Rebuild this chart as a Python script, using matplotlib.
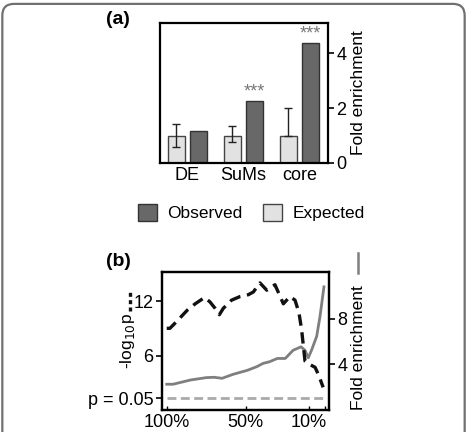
import matplotlib
matplotlib.use("Agg")
import matplotlib.pyplot as plt
from matplotlib.patches import FancyBboxPatch, Patch
from matplotlib.lines import Line2D

plt.rcParams['font.family'] = ['Liberation Sans', 'DejaVu Sans']

# ---- panel (a) data ----
categories = ["DE", "SuMs", "core"]
observed = [1.15, 2.26, 4.36]
expected = [1.0, 1.0, 1.0]
err_low = [0.4, 0.25, 0.0]
err_high = [0.42, 0.35, 1.02]
stars = ["", "***", "***"]

# ---- panel (b) data ----
pct_p = [100, 98, 94, 87, 82, 76, 72.6, 69.4, 66.7, 64.2, 59, 53.6, 48.4, 45.2,
         41, 36.7, 31.5, 26.2, 22, 18.8, 16.3, 14.6, 12.5, 9.3, 6.1, 4, 1]
logp = [9.0, 9.0, 9.7, 11.0, 11.7, 12.4, 11.9, 11.2, 10.5, 11.2, 12.1, 12.5, 12.7, 13.0,
        14.0, 13.2, 13.8, 11.7, 12.5, 12.1, 10.7, 8.8, 5.4, 5.0, 4.7, 3.9, 2.5]
pct_fe = [100, 96, 85, 75, 70, 65, 58, 49, 43, 39, 35, 30, 25, 20, 15, 12.5,
          10.4, 8.2, 5.1, 3, 0.5]
fold_enr = [2.26, 2.26, 2.63, 2.84, 2.87, 2.78, 3.13, 3.48, 3.8, 4.09, 4.23, 4.52,
            4.52, 5.24, 5.54, 5.24, 4.58, 5.3, 6.46, 8.2, 10.8]
p_thresh = 1.3  # -log10(0.05)
x_ticks = [100, 50, 10, 0]
x_ticklabels = ["100%", "50%", "10%", ""]

FS = 12.5
FT = 13
obs_color = "#686868"
exp_color = "#e2e2e2"

fig = plt.figure(figsize=(4.67, 4.32), dpi=100)

# ---------------- panel (a) ----------------
axa = fig.add_axes([0.3426, 0.6227, 0.3597, 0.324])
xs = list(range(len(categories)))
w = 0.31
off = 0.2
axa.bar([x - off for x in xs], expected, width=w, color=exp_color, edgecolor="#444444",
        linewidth=1.0, zorder=2)
axa.bar([x + off for x in xs], observed, width=w, color=obs_color, edgecolor="#333333",
        linewidth=1.0, zorder=2)
axa.errorbar([x - off for x in xs], expected, yerr=[err_low, err_high], fmt="none",
             ecolor="#222222", elinewidth=1.0, capsize=3, capthick=1.0, zorder=3)
for x, o, s in zip(xs, observed, stars):
    if s:
        axa.text(x + off, o + 0.02, s, ha="center", va="bottom", fontsize=13,
                 color="#777777")
axa.set_xlim(-0.49, 2.51)
axa.set_ylim(0, 5.1)
axa.set_xticks(xs)
axa.set_xticklabels(categories, fontsize=FT)
axa.tick_params(axis="x", length=0, pad=3)
axa.yaxis.tick_right()
axa.set_yticks([0, 2, 4])
axa.tick_params(axis="y", direction="out", length=4, width=1.2, labelsize=FT, pad=2)
for sp in axa.spines.values():
    sp.set_linewidth(1.6)
axa.text(1.18, 0.5, "Fold enrichment", rotation=90, ha="center", va="center",
         fontsize=FS, transform=axa.transAxes)
fig.text(0.226, 0.955, "(a)", fontsize=14, fontweight="bold", ha="left", va="center")

# legend
handles = [Patch(facecolor=obs_color, edgecolor="#333333", label="Observed"),
           Patch(facecolor=exp_color, edgecolor="#444444", label="Expected")]
fig.legend(handles=handles, loc="center", bbox_to_anchor=(0.5385, 0.508), ncol=2,
           frameon=False, fontsize=FS, handlelength=1.1, handleheight=1.1,
           handletextpad=0.6, columnspacing=1.2)

# ---------------- panel (b) ----------------
axb = fig.add_axes([0.3469, 0.0509, 0.3576, 0.3194])
axb2 = axb.twinx()
axb2.plot(pct_fe, fold_enr, color="#7f7f7f", linewidth=2.0, zorder=2)
axb.set_zorder(axb2.get_zorder() + 1)
axb.patch.set_visible(False)
axb.plot([100, 0.5], [p_thresh, p_thresh], color="#aaaaaa", linewidth=2.0,
         linestyle=(0, (3.2, 1.6)), zorder=2)
axb.plot(pct_p, logp, color="#111111", linewidth=2.4, linestyle=(0, (3.4, 2.0)), zorder=3)

axb.set_xlim(103, -2.7)
axb.set_ylim(0, 15.2)
axb2.set_ylim(0, 12.1)
axb.set_xticks(x_ticks)
axb.set_xticklabels(x_ticklabels, fontsize=FT)
axb.tick_params(axis="x", direction="in", length=3, width=1.0, pad=3)
axb.set_yticks([p_thresh, 6, 12])
axb.set_yticklabels(["p = 0.05", "6", "12"], fontsize=FT)
axb.tick_params(axis="y", direction="out", length=4, width=1.2, pad=2)
axb2.set_yticks([4, 8])
axb2.set_yticklabels(["4", "8"], fontsize=FT)
axb2.tick_params(axis="y", direction="out", length=4, width=1.2, pad=2)
for a in (axb, axb2):
    for sp in a.spines.values():
        sp.set_linewidth(1.6)

axb.text(-0.205, 0.5, "-log$_{10}$p", rotation=90, ha="center", va="center",
         fontsize=FS, transform=axb.transAxes)
axb.add_line(Line2D([-0.19, -0.19], [0.72, 0.86], transform=axb.transAxes,
                    color="#111111", linewidth=2.4, linestyle=(0, (1.2, 1.0)),
                    clip_on=False))
axb.text(1.175, 0.45, "Fold enrichment", rotation=90, ha="center", va="center",
         fontsize=FS, transform=axb.transAxes)
axb.add_line(Line2D([1.172, 1.172], [0.99, 1.14], transform=axb.transAxes,
                    color="#7f7f7f", linewidth=1.8, clip_on=False))
fig.text(0.226, 0.395, "(b)", fontsize=14, fontweight="bold", ha="left", va="center")

# figure frame
frame = FancyBboxPatch((0.005, -0.05), 0.99, 1.041,
                       boxstyle="round,pad=0,rounding_size=0.025",
                       transform=fig.transFigure, fill=False,
                       edgecolor="#707070", linewidth=1.6, mutation_aspect=467 / 432)
fig.patches.append(frame)

fig.savefig("out.png", dpi=100)
